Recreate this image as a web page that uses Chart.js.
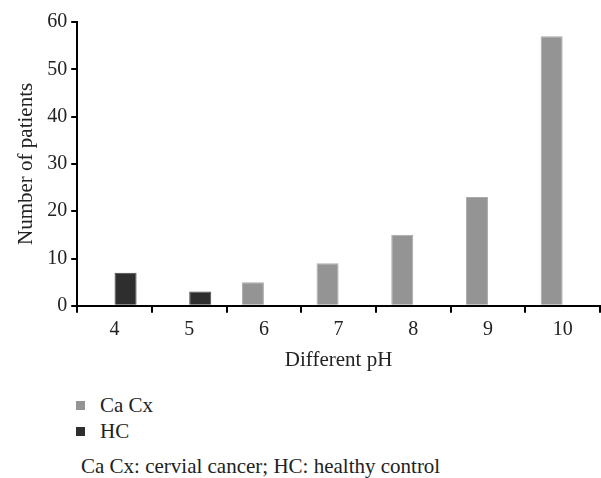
<!DOCTYPE html>
<html>
<head>
<meta charset="utf-8">
<script src="https://cdn.jsdelivr.net/npm/chart.js@4/dist/chart.umd.min.js"></script>
<style>
  body { margin: 0; background: #fff; font-family: "Liberation Serif", "DejaVu Serif", serif; color: #222; }
  #wrap { position: relative; width: 601px; height: 377px; }
  #legend { position: absolute; left: 76px; top: 392px; font-size: 21px; line-height: 26px; }
  #legend .item { display: flex; align-items: center; }
  #legend .box { width: 9px; height: 9px; margin-right: 15px; }
  #note { position: absolute; left: 81px; top: 454px; font-size: 21px; }
</style>
</head>
<body>
<div id="wrap"><canvas id="chart"></canvas></div>
<div id="legend"></div>
<div id="note">Ca Cx: cervial cancer; HC: healthy control</div>
<script>
var phLabels = ["4", "5", "6", "7", "8", "9", "10"];
var caCx = [0, 0, 5, 9, 15, 23, 57];
var hc = [7, 3, 0, 0, 0, 0, 0];
var yTicks = [0, 10, 20, 30, 40, 50, 60];

var ctx = document.getElementById("chart").getContext("2d");
var font = { family: "Liberation Serif", size: 20 };
var titleFont = { family: "Liberation Serif", size: 21 };

var chart = new Chart(ctx, {
    type: "bar",
    data: {
        labels: phLabels,
        datasets: [
            {
                label: "Ca Cx",
                data: caCx,
                backgroundColor: "#949494",
                borderColor: "#aaaaaa",
                borderWidth: 1,
                barPercentage: 1,
                categoryPercentage: 0.59,
            },
            {
                label: "HC",
                data: hc,
                backgroundColor: "#2e2e2e",
                borderColor: "#484848",
                borderWidth: 1,
                barPercentage: 1,
                categoryPercentage: 0.59,
            },
        ],
    },
    options: {
        responsive: true,
        maintainAspectRatio: false,
        animation: false,
        layout: { padding: { top: 22, left: 10, right: 1 } },
        plugins: {
            legend: { display: false },
            tooltip: { enabled: false },
        },
        scales: {
            x: {
                grid: { display: true, drawOnChartArea: false, color: "#000", lineWidth: 2, tickLength: 7, offset: true },
                border: { color: "#000", width: 2 },
                ticks: { color: "#222", font: font, padding: 5 },
                title: { display: true, text: "Different pH", color: "#222", font: titleFont, padding: { top: 1 } },
            },
            y: {
                min: 0,
                max: 60,
                afterBuildTicks: function (scale) {
                    scale.ticks = yTicks.map(function (v) { return { value: v }; });
                },
                grid: { display: true, drawOnChartArea: false, color: "#000", lineWidth: 2, tickLength: 6 },
                border: { color: "#000", width: 2 },
                ticks: { color: "#222", font: font, padding: 4 },
                title: { display: true, text: "Number of patients", color: "#222", font: titleFont, padding: { bottom: 4 } },
            },
        },
    },
});

// legend built from the datasets
var legend = document.getElementById("legend");
chart.data.datasets.forEach(function (ds) {
    var item = document.createElement("div");
    item.className = "item";
    var box = document.createElement("span");
    box.className = "box";
    box.style.background = ds.backgroundColor;
    item.appendChild(box);
    item.appendChild(document.createTextNode(ds.label));
    legend.appendChild(item);
});
</script>
</body>
</html>
